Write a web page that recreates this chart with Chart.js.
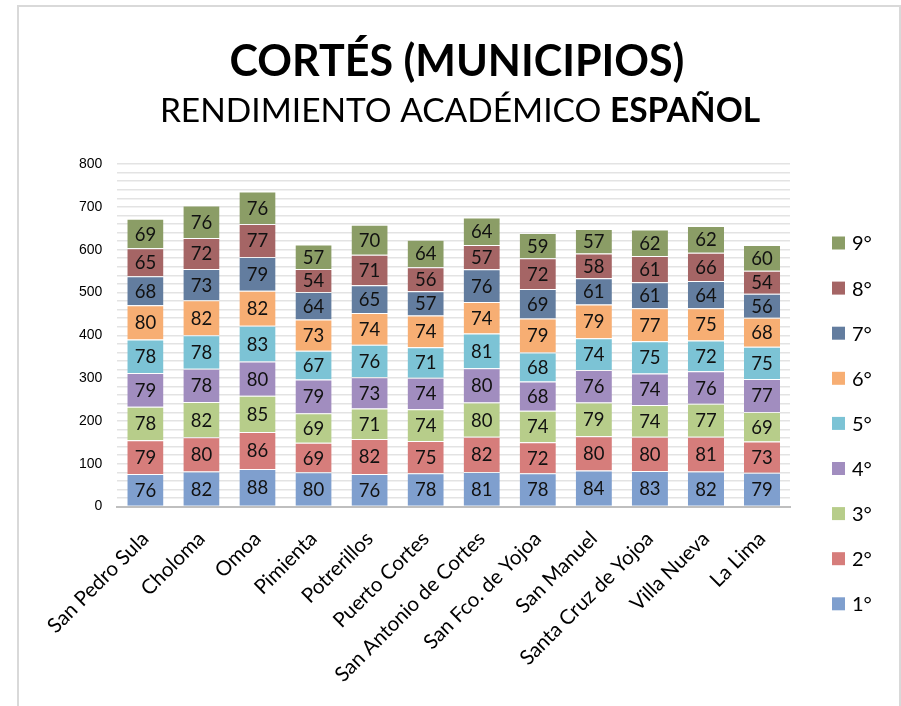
<!DOCTYPE html>
<html>
<head>
<meta charset="utf-8">
<script src="https://cdn.jsdelivr.net/npm/chart.js@4"></script>
<style>
  body { margin: 0; background: #fff; }
  #marco { position: absolute; left: 17px; top: 5px; width: 880px; height: 800px; border: 2px solid #d9d9d9; }
  #grafico { position: absolute; left: 0; top: 0; }
</style>
</head>
<body>
<div id="marco"></div>
<canvas id="grafico" width="901" height="706"></canvas>
<script>
// Datos de rendimiento por municipio
const municipios = ['San Pedro Sula', 'Choloma', 'Omoa', 'Pimienta', 'Potrerillos', 'Puerto Cortes',
    'San Antonio de Cortes', 'San Fco. de Yojoa', 'San Manuel', 'Santa Cruz de Yojoa', 'Villa Nueva', 'La Lima'];
const grados = ['1°', '2°', '3°', '4°', '5°', '6°', '7°', '8°', '9°'];

const grado1 = [76, 82, 88, 80, 76, 78, 81, 78, 84, 83, 82, 79];
const grado2 = [79, 80, 86, 69, 82, 75, 82, 72, 80, 80, 81, 73];
const grado3 = [78, 82, 85, 69, 71, 74, 80, 74, 79, 74, 77, 69];
const grado4 = [79, 78, 80, 79, 73, 74, 80, 68, 76, 74, 76, 77];
const grado5 = [78, 78, 83, 67, 76, 71, 81, 68, 74, 75, 72, 75];
const grado6 = [80, 82, 82, 73, 74, 74, 74, 79, 79, 77, 75, 68];
const grado7 = [68, 73, 79, 64, 65, 57, 76, 69, 61, 61, 64, 56];
const grado8 = [65, 72, 77, 54, 71, 56, 57, 72, 58, 61, 66, 54];
const grado9 = [69, 76, 76, 57, 70, 64, 64, 59, 57, 62, 62, 60];

const ejeY = [0, 100, 200, 300, 400, 500, 600, 700, 800];

function arregloColor(){
    return ['#7f9fce', '#d67d7b', '#b7cd8a', '#a18dbf', '#7cc3d5', '#f7ae73', '#637d9f', '#a56565', '#8b9d66'];
}

const series = [grado1, grado2, grado3, grado4, grado5, grado6, grado7, grado8, grado9];

// etiquetas de valor dentro de cada segmento
const etiquetas = {
    id: 'etiquetas',
    afterDatasetsDraw(chart) {
        const ctx = chart.ctx;
        ctx.save();
        ctx.font = '18.5px Lato';
        ctx.fillStyle = '#111';
        ctx.textAlign = 'center';
        ctx.textBaseline = 'middle';
        chart.data.datasets.forEach((ds, i) => {
            chart.getDatasetMeta(i).data.forEach((bar, j) => {
                const p = bar.getProps(['x', 'y', 'base'], true);
                ctx.fillText(ds.data[j], p.x, (p.y + p.base) / 2 + 1);
            });
        });
        ctx.restore();
    }
};

// titulo de dos lineas
const titulos = {
    id: 'titulos',
    afterDraw(chart) {
        const ctx = chart.ctx;
        ctx.save();
        ctx.fillStyle = '#000';
        ctx.textBaseline = 'alphabetic';
        ctx.textAlign = 'center';
        ctx.font = 'bold 43px Lato';
        ctx.fillText('CORTÉS (MUNICIPIOS)', 457, 76);
        const parte1 = 'RENDIMIENTO ACADÉMICO ';
        const parte2 = 'ESPAÑOL';
        ctx.font = '33.5px Lato';
        const w1 = ctx.measureText(parte1).width;
        ctx.font = 'bold 33.5px Lato';
        const w2 = ctx.measureText(parte2).width;
        let x = 460 - (w1 + w2) / 2;
        ctx.textAlign = 'left';
        ctx.font = '33.5px Lato';
        ctx.fillText(parte1, x, 122);
        ctx.font = 'bold 33.5px Lato';
        ctx.fillText(parte2, x + w1, 122);
        ctx.restore();
    }
};

// leyenda a la derecha, de 9° a 1°
const leyenda = {
    id: 'leyenda',
    afterDraw(chart) {
        const ctx = chart.ctx;
        const x = chart.chartArea.right + 42;
        ctx.save();
        ctx.font = '20px Lato';
        ctx.textBaseline = 'middle';
        ctx.textAlign = 'left';
        const n = chart.data.datasets.length;
        for (let k = 0; k < n; k++) {
            const ds = chart.data.datasets[n - 1 - k];
            const y = 243 + k * 45.1;
            ctx.fillStyle = ds.backgroundColor;
            ctx.fillRect(x, y - 6.5, 13, 13);
            ctx.fillStyle = '#000';
            ctx.fillText(ds.label, x + 20, y + 1);
        }
        ctx.restore();
    }
};

let grafico = new Chart(document.getElementById('grafico').getContext('2d'), {
    type: 'bar',
    data: {
        labels: municipios,
        datasets: series.map((datos, i) => ({
            label: grados[i],
            data: datos,
            backgroundColor: arregloColor()[i],
            borderColor: 'rgba(255,255,255,0.45)',
            borderWidth: { top: 1 },
            borderSkipped: false,
            categoryPercentage: 1,
            barPercentage: 0.645
        }))
    },
    options: {
        responsive: false,
        animation: false,
        layout: { padding: { top: 164, left: 64, right: 111, bottom: 7 } },
        plugins: {
            legend: { display: false },
            title: { display: false },
            tooltip: { enabled: false }
        },
        scales: {
            x: {
                stacked: true,
                grid: { display: false },
                border: { color: '#bfbfbf', width: 2 },
                ticks: {
                    color: '#000',
                    font: { family: 'Lato', size: 20.5 },
                    minRotation: 45,
                    maxRotation: 45,
                    padding: 12
                }
            },
            y: {
                stacked: true,
                min: ejeY[0],
                max: ejeY[ejeY.length - 1],
                border: { display: false },
                grid: { color: '#e3e3e3', lineWidth: 1.5, drawTicks: false },
                ticks: {
                    stepSize: 20,
                    autoSkip: false,
                    color: '#000',
                    font: { family: 'Liberation Sans', size: 14 },
                    padding: 15,
                    callback: v => ejeY.includes(v) ? v : ''
                }
            }
        }
    },
    plugins: [etiquetas, titulos, leyenda]
});
</script>
</body>
</html>
